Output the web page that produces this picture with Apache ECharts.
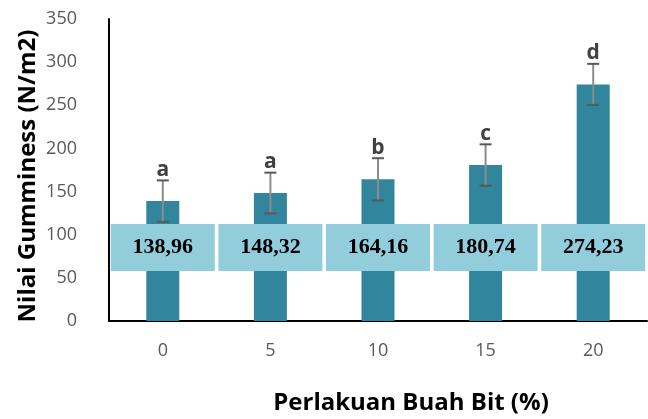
<!DOCTYPE html>
<html lang="en">
<head>
  <meta charset="UTF-8">
  <title>Gumminess</title>
  <script src="https://cdn.jsdelivr.net/npm/echarts@6/dist/echarts.min.js"></script>
  <style>
    html, body { margin: 0; padding: 0; background: #fff; }
  </style>
</head>
<body>
  <div id="main" style="width:648px;height:419px;"></div>

  <script type="text/javascript">
    // data
    var categories = ['0', '5', '10', '15', '20'];
    var values = [138.96, 148.32, 164.16, 180.74, 274.23];
    var valueLabels = ['138,96', '148,32', '164,16', '180,74', '274,23'];
    var errors = [24, 23.6, 24.5, 24, 23.8];
    var letters = ['a', 'a', 'b', 'c', 'd'];
    var yTicks = [0, 50, 100, 150, 200, 250, 300, 350];

    var errData = values.map(function (v, i) { return [i, v, errors[i], letters[i]]; });

    var myChart = echarts.init(document.getElementById('main'));

    var option = {
      animation: false,
      grid: { left: 109, right: 1, top: 19, bottom: 98 },
      xAxis: {
        type: 'category',
        data: categories,
        axisLine: { lineStyle: { color: '#000', width: 2 } },
        axisTick: { show: false },
        axisLabel: { color: '#595959', fontSize: 18, fontFamily: 'Open Sans', margin: 21 }
      },
      yAxis: {
        type: 'value',
        min: yTicks[0],
        max: yTicks[yTicks.length - 1],
        interval: 50,
        axisLine: { show: true, lineStyle: { color: '#000', width: 2 } },
        axisTick: { show: false },
        splitLine: { show: false },
        axisLabel: { color: '#595959', fontSize: 18, fontFamily: 'Open Sans', margin: 32 }
      },
      graphic: [
        {
          type: 'text',
          x: 28, y: 176,
          rotation: Math.PI / 2,
          style: {
            text: 'Nilai Gumminess (N/m2)', fill: '#000', font: 'bold 24px "Open Sans"',
            align: 'center', verticalAlign: 'middle'
          }
        },
        {
          type: 'text',
          x: 411, y: 403,
          style: {
            text: 'Perlakuan Buah Bit (%)', fill: '#000', font: 'bold 24px "Open Sans"',
            align: 'center', verticalAlign: 'middle'
          }
        }
      ],
      series: [
        {
          type: 'bar',
          data: values,
          barWidth: 33,
          itemStyle: { color: '#31859C' },
          label: {
            show: true,
            position: 'insideBottom',
            distance: 50,
            formatter: function (p) { return valueLabels[p.dataIndex]; },
            backgroundColor: '#92CDDC',
            width: 104,
            height: 47,
            lineHeight: 47,
            align: 'center',
            color: '#000',
            fontSize: 22,
            fontWeight: 'bold',
            fontFamily: 'Liberation Serif'
          },
          z: 2
        },
        {
          type: 'custom',
          data: errData,
          z: 3,
          renderItem: function (params, api) {
            var x = api.coord([api.value(0), 0])[0];
            var top = api.coord([api.value(0), api.value(1) + api.value(2)])[1];
            var bot = api.coord([api.value(0), api.value(1) - api.value(2)])[1];
            var hw = 6;
            return {
              type: 'group',
              children: [
                { type: 'line', shape: { x1: x, y1: top, x2: x, y2: bot }, style: { stroke: '#8c8c8c', lineWidth: 2 } },
                { type: 'line', shape: { x1: x - hw, y1: top, x2: x + hw, y2: top }, style: { stroke: '#595959', lineWidth: 2 } },
                { type: 'line', shape: { x1: x - hw, y1: bot, x2: x + hw, y2: bot }, style: { stroke: '#595959', lineWidth: 2 } },
                {
                  type: 'text',
                  style: {
                    text: letters[params.dataIndex],
                    x: x, y: top,
                    align: 'center', verticalAlign: 'bottom',
                    fill: '#404040', font: 'bold 21px "Open Sans"'
                  }
                }
              ]
            };
          }
        }
      ]
    };

    myChart.setOption(option);
  </script>
</body>
</html>
